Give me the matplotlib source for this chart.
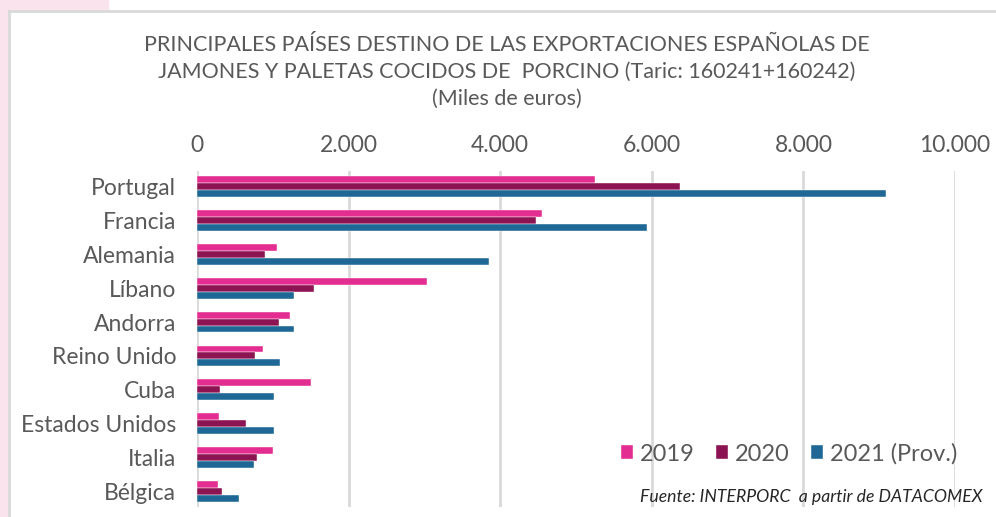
import matplotlib.pyplot as plt
import numpy as np
from matplotlib.patches import Rectangle
from matplotlib.lines import Line2D

paises = ['Portugal', 'Francia', 'Alemania', 'Líbano', 'Andorra',
          'Reino Unido', 'Cuba', 'Estados Unidos', 'Italia', 'Bélgica']
v2019 = [5250, 4555, 1060, 3040, 1225, 870, 1505, 290, 1000, 275]
v2020 = [6375, 4470, 900, 1540, 1080, 765, 300, 650, 795, 335]
v2021 = [9095, 5940, 3855, 1285, 1285, 1090, 1020, 1020, 750, 555]
series = ['2019', '2020', '2021 (Prov.)']
colores = ['#E32D91', '#8C1452', '#1F6896']
ticks = [0, 2000, 4000, 6000, 8000, 10000]
tick_labels = ['0', '2.000', '4.000', '6.000', '8.000', '10.000']

plt.rcParams['font.family'] = ['Lato', 'DejaVu Sans']
gris = '#595959'

fig = plt.figure(figsize=(9.96, 5.17), dpi=100)

# marco rosa y borde gris
fig.patches.append(Rectangle((0, 0), 8 / 996, 1, transform=fig.transFigure,
                             color='#FBE3EE', zorder=0))
fig.patches.append(Rectangle((0, 1 - 10 / 517), 108 / 996, 10 / 517,
                             transform=fig.transFigure, color='#FBE3EE', zorder=0))
fig.lines.append(Line2D([8.5 / 996, 1], [1 - 11 / 517, 1 - 11 / 517],
                        transform=fig.transFigure, color='#D9D9D9', lw=2))
fig.lines.append(Line2D([8.5 / 996, 8.5 / 996], [0, 1 - 11 / 517],
                        transform=fig.transFigure, color='#D9D9D9', lw=2))

ax = fig.add_axes([197 / 996, 1 - 507 / 517, 758 / 996, 336 / 517])

y = np.arange(len(paises))
h = 0.205
for i, (vals, c, lab) in enumerate(zip([v2019, v2020, v2021], colores, series)):
    ax.barh(y + (i - 1) * h, vals, height=h, color=c, label=lab,
            edgecolor='white', linewidth=0.3, zorder=3)

ax.set_xlim(0, 10000)
ax.set_ylim(9.47, -0.47)
ax.set_yticks(y)
ax.set_yticklabels(paises, fontsize=16.5, color=gris)
ax.xaxis.tick_top()
ax.set_xticks(ticks)
ax.set_xticklabels(tick_labels, fontsize=16.5, color=gris)
ax.tick_params(axis='both', length=0)
ax.tick_params(axis='x', pad=11)
ax.tick_params(axis='y', pad=15)
ax.grid(axis='x', color='#D9D9D9', lw=2, zorder=0)
for s in ax.spines.values():
    s.set_visible(False)

titulo = ['PRINCIPALES PAÍSES DESTINO DE LAS EXPORTACIONES ESPAÑOLAS DE',
          'JAMONES Y PALETAS COCIDOS DE  PORCINO (Taric: 160241+160242)',
          '(Miles de euros)']
for k, linea in enumerate(titulo):
    fig.text(0.509, 1 - (45 + 27 * k) / 517, linea,
             ha='center', va='center', fontsize=15.5, color=gris)

leg = ax.legend(loc='lower right', bbox_to_anchor=(1.031, 0.063), ncol=3, frameon=False,
                fontsize=17, handlelength=0.5, handleheight=0.5,
                handletextpad=0.3, columnspacing=0.9, labelcolor=gris)

fig.text(982 / 996, 1 - 497 / 517, 'Fuente: INTERPORC  a partir de DATACOMEX',
         ha='right', va='center', fontsize=12.7, style='italic', color='#262626')

fig.savefig('out.png', dpi=100)
